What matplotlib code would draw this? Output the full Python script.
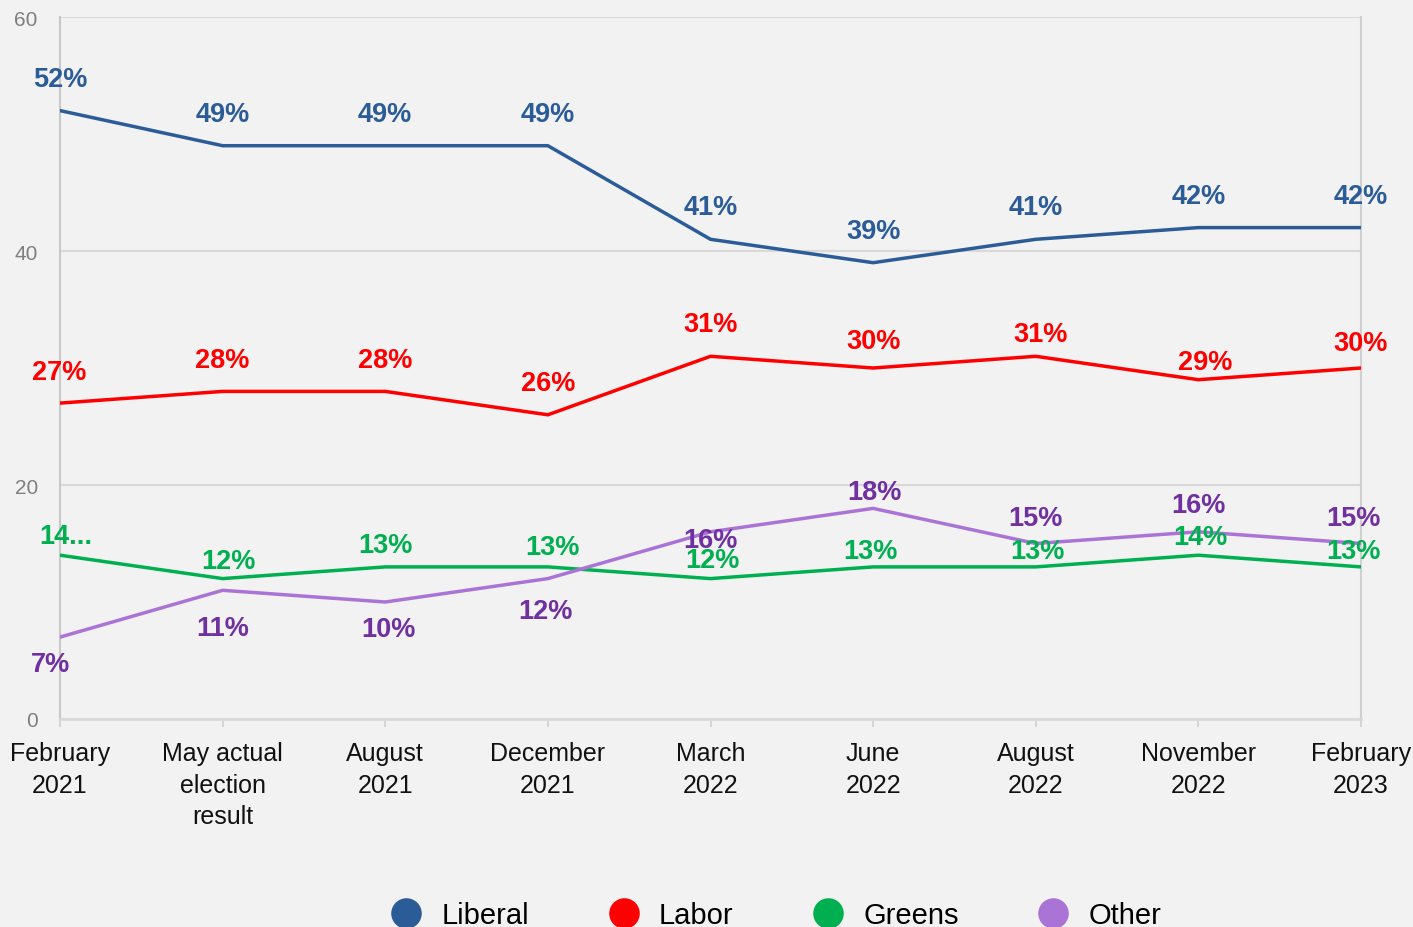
import matplotlib.pyplot as plt
from matplotlib.lines import Line2D

periods = ["February\n2021", "May actual\nelection\nresult", "August\n2021", "December\n2021",
           "March\n2022", "June\n2022", "August\n2022", "November\n2022", "February\n2023"]
liberal = [52, 49, 49, 49, 41, 39, 41, 42, 42]
labor = [27, 28, 28, 26, 31, 30, 31, 29, 30]
greens = [14, 12, 13, 13, 12, 13, 13, 14, 13]
other = [7, 11, 10, 12, 16, 18, 15, 16, 15]
greens_text = ["14..."] + [f"{v}%" for v in greens[1:]]

bg = "#f2f2f2"
plt.rcParams['font.family'] = ['Liberation Sans', 'DejaVu Sans']

fig = plt.figure(figsize=(14.13, 9.28), dpi=100, facecolor=bg)
ax = fig.add_axes([60/1413, 1-720/928, 1301/1413, 702/928], facecolor=bg)

x = list(range(len(periods)))

# (series, line colour, label colour, texts, dx px, dy px)
series = [
    (liberal, "#2b5c98", "#2b5c98", [f"{v}%" for v in liberal],
     [0]*9, [32]*9),
    (labor, "#ff0000", "#ff0000", [f"{v}%" for v in labor],
     [-1, 0, 0, 0, 0, 0, 5, 7, 0], [31, 31, 31, 32, 32, 27, 22, 18, 25]),
    (greens, "#00b050", "#00b050", greens_text,
     [6, 6, 0, 5, 2, -3, 2, 2, -8], [19, 18, 22, 20, 19, 16, 16, 18, 16]),
    (other, "#a974d6", "#7030a0", [f"{v}%" for v in other],
     [-10, 0, 3, -2, 0, 1, 0, 0, -8], [-27, -38, -27, -32, -8, 16, 26, 27, 26]),
]

k = 72/100
for vals, lc, tc, texts, dxs, dys in series:
    ax.plot(x, vals, color=lc, lw=2.5, solid_joinstyle='miter', zorder=3)
    for xi, v, t, dx, dy in zip(x, vals, texts, dxs, dys):
        ax.annotate(t, (xi, v), xytext=(dx*k, dy*k), textcoords='offset points',
                    ha='center', va='center', color=tc, fontsize=19.5,
                    fontweight='bold', annotation_clip=False, zorder=4)

ax.set_xlim(0, 8)
ax.set_ylim(0, 60)
ax.set_yticks([0, 20, 40, 60])
ax.set_xticks(x)
ax.set_xticklabels(periods, fontsize=18, color="#111111", linespacing=1.4)
ax.tick_params(axis='y', length=0, pad=16, labelsize=15, labelcolor="#7f7f7f")
ax.tick_params(axis='x', length=6, width=1.2, color="#d0d0d0", pad=10)
ax.grid(axis='y', color="#d9d9d9", lw=1.5)
ax.set_axisbelow(True)
ax.spines['top'].set_visible(False)
ax.spines['left'].set_color("#c8c8c8")
ax.spines['left'].set_linewidth(1.5)
ax.spines['right'].set_color("#d0d0d0")
ax.spines['right'].set_linewidth(1.5)
ax.spines['bottom'].set_color("#d9d9d9")
ax.spines['bottom'].set_linewidth(2)

handles = [Line2D([], [], ls='none', marker='o', markersize=22, color=c, markeredgewidth=0)
           for c in ["#2b5c98", "#ff0000", "#00b050", "#a974d6"]]
fig.legend(handles, ["Liberal", "Labor", "Greens", "Other"], loc='center',
           bbox_to_anchor=(0.5485, 1-916/928), ncol=4, frameon=False,
           prop={'size': 21},
           handletextpad=0.6, columnspacing=2.65, handlelength=1.2)

fig.savefig("out.png", dpi=100, facecolor=bg)
